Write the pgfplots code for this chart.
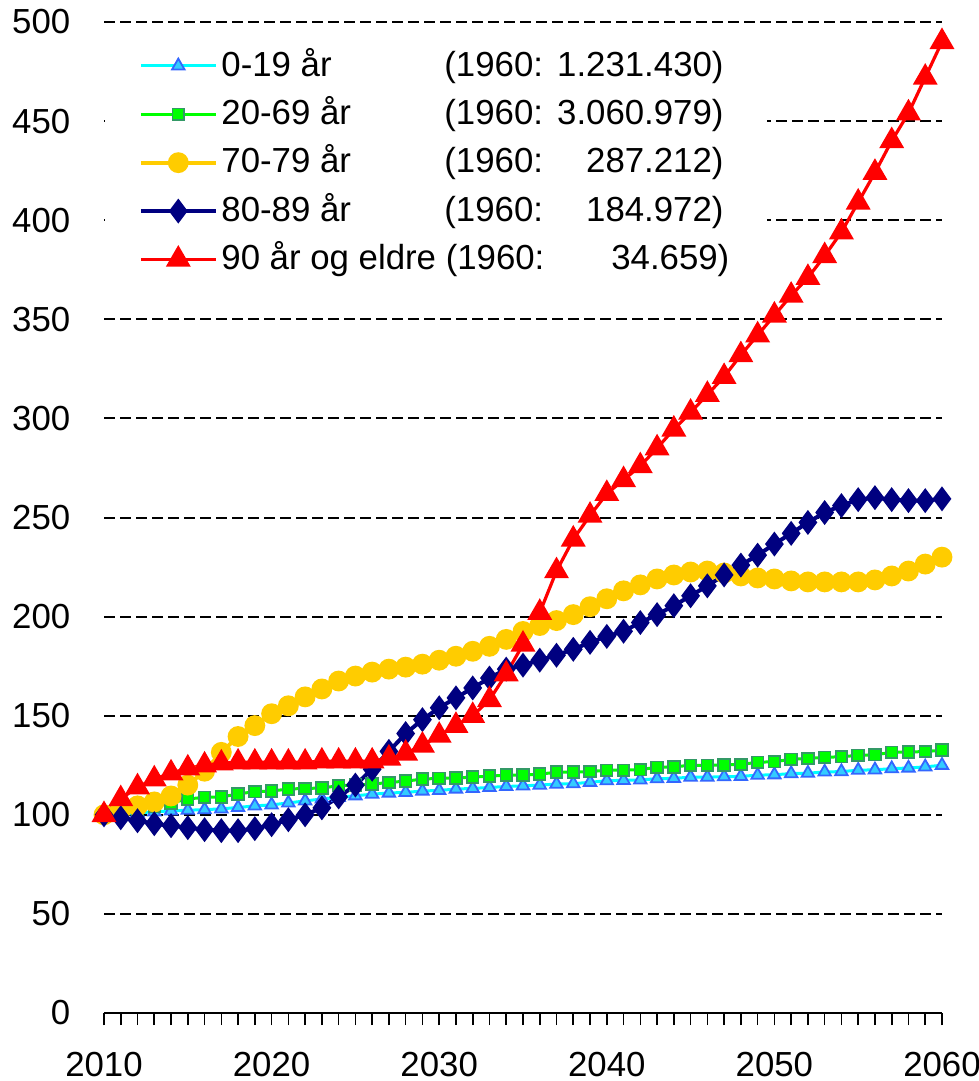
\documentclass[border=0pt]{standalone}
\usepackage{fontspec}
\setmainfont{Liberation Sans}
\usepackage{pgfplots}
\pgfplotsset{compat=1.18}
\usepackage{pgfplotstable}

\definecolor{cyanL}{RGB}{0,255,255}
\definecolor{cyanM}{RGB}{51,204,255}
\definecolor{blueE}{RGB}{51,102,255}
\definecolor{greenL}{RGB}{0,255,0}
\definecolor{greenE}{RGB}{51,153,102}
\definecolor{yel}{RGB}{255,204,0}
\definecolor{navy}{RGB}{0,0,128}
\definecolor{redL}{RGB}{255,0,0}

\pgfplotstableread{
year a b c d e
2010 100 100 100 100 100
2011 100.5 101.5 102.5 98.5 108
2012 101 103 104.5 97 114
2013 101.5 104.5 106.5 95.5 118
2014 102 106 109.5 94.5 121
2015 102.3 108 115 93.5 123.5
2016 102.6 108.8 122 92.5 125
2017 103 109 131.5 92 126
2018 103.7 110.5 139.5 92 126.5
2019 104.5 111.7 145 93 126.5
2020 105 112 151 95 126.5
2021 106 113 155 97.5 126.5
2022 107 113.3 159.5 100 126.5
2023 108 113.5 163.5 103.5 127
2024 108.8 114.7 167.5 109 127
2025 109.6 115 170 115 127
2026 110.4 115.5 172 123 127
2027 111 116.3 173.5 132 128.5
2028 111.3 117 174.5 141 131
2029 112 118 176 148 135
2030 112.3 118.4 178 154 140
2031 113 118.6 180 159 145
2032 113.3 119 182.5 164 150
2033 113.8 119.5 185 169 158
2034 114.3 120 188.5 173.5 171
2035 114.6 120 192.5 175.5 186
2036 115 120.5 195.5 178 202
2037 115.5 121.5 198 180.5 223
2038 115.7 121.6 201 183.5 239
2039 116.4 121.8 205 187 251
2040 117.2 122.5 209 190 262
2041 117.4 122.5 213 192.6 269
2042 117.6 122.8 216 197 276
2043 118.2 124 219 201 285
2044 118.4 124.2 221 205.5 294.5
2045 119 125 222.5 210.5 303
2046 119 125 223 215.5 312
2047 119.2 125.2 222 221 321
2048 119.4 125.4 220.5 226 332
2049 120 126.5 219.5 231 342
2050 120.2 126.8 219 236.6 352
2051 120.8 128 218 242 362
2052 121 128.4 217.5 247.5 371
2053 121.6 129 217.5 252.5 382
2054 121.8 129.3 217.5 256 394
2055 122.5 130 217.5 259 409
2056 122.7 130.3 218.5 260 424
2057 123.3 131.5 220.5 259 440
2058 123.6 131.7 223 258.5 454
2059 124.2 131.9 226.5 258.5 472
2060 125 132.6 230 259.4 490
}\datatable

\newcommand{\LE}[2]{\makebox[55.75pt][l]{#1}\makebox[69.8pt][l]{(1960:\ \hfill #2)}}

\begin{document}
\begin{tikzpicture}
\useasboundingbox (-26pt,-17pt) rectangle (218.5pt,253.25pt);
\begin{axis}[
  at={(0pt,0pt)}, anchor=south west,
  scale only axis, width=209.5pt, height=247.75pt,
  xmin=2010, xmax=2060, ymin=0, ymax=500,
  axis x line*=bottom, axis y line*=left,
  y axis line style={draw=none},
  x axis line style={black, line width=0.55pt},
  xtick={2010,2020,...,2060},
  minor xtick={2010,2011,...,2060},
  ytick={0,50,...,500},
  tick align=outside,
  major tick length=3pt, minor tick length=3pt,
  every tick/.style={black, line width=0.4pt},
  ytick style={draw=none},
  ymajorgrids,
  major grid style={black, line width=0.5pt, dash pattern=on 2.75pt off 1.25pt},
  tick label style={font=\fontsize{8.7}{10}\selectfont},
  /pgf/number format/assume math mode=true,
  /pgf/number format/1000 sep={},
  yticklabel style={xshift=-1.9pt},
  xticklabel style={yshift=-3.3pt},
  legend style={draw=none, fill=white, at={(rel axis cs:0,0.985)}, anchor=north west,
    inner xsep=8.5pt, inner ysep=1pt, font=\fontsize{8.7}{10}\selectfont,
    nodes={inner xsep=0.9pt, inner ysep=1pt, text height=7.6pt, text depth=2.5pt}},
  legend cell align=left,
  legend image code/.code={\draw[mark repeat=2,mark phase=2,#1] plot coordinates {(0pt,0pt) (9.375pt,0pt) (18.75pt,0pt)};},
]
\addplot[color=cyanL, line width=0.75pt, mark=triangle*, mark size=1.8pt,
  mark options={fill=cyanM, draw=blueE, line width=0.45pt}] table[x=year,y=a]{\datatable};
\addlegendentry{\LE{0-19 år}{1.231.430}}
\addplot[color=greenL, line width=0.75pt, mark=square*, mark size=1.45pt,
  mark options={fill=greenL, draw=greenE, line width=0.45pt}] table[x=year,y=b]{\datatable};
\addlegendentry{\LE{20-69 år}{3.060.979}}
\addplot[color=yel, line width=1pt, mark=*, mark size=2.1pt,
  mark options={fill=yel, draw=yel}] table[x=year,y=c]{\datatable};
\addlegendentry{\LE{70-79 år}{287.212}}
\addplot[color=navy, line width=1pt, mark=diamond*, mark size=2.3pt,
  mark options={fill=navy, draw=navy}] table[x=year,y=d]{\datatable};
\addlegendentry{\LE{80-89 år}{184.972}}
\addplot[color=redL, line width=0.8pt, mark=triangle*, mark size=2.8pt,
  mark options={fill=redL, draw=redL}] table[x=year,y=e]{\datatable};
\addlegendentry{\makebox[127pt][l]{90 år og eldre (1960:\hfill 34.659)}}
\end{axis}
\end{tikzpicture}
\end{document}
